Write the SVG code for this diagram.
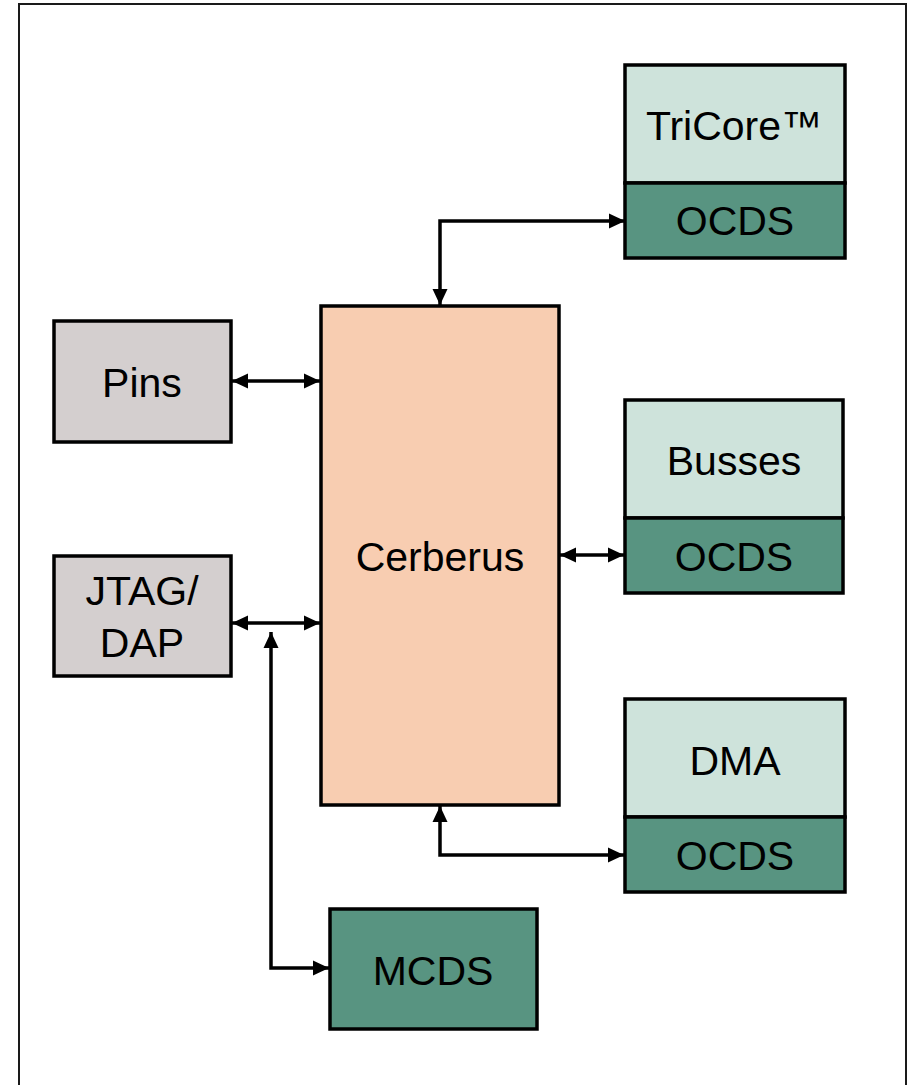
<svg xmlns="http://www.w3.org/2000/svg" width="912" height="1085" viewBox="0 0 912 1085">
<defs>
<style>
.box{stroke:#000;stroke-width:3.5}
.lt{fill:#CEE3DB}
.dk{fill:#589481}
.gr{fill:#D4CFCF}
.pk{fill:#F8CDB1}
.t{font-family:"Liberation Sans",Arial,sans-serif;font-size:41px;fill:#000;text-anchor:middle}
.c{fill:none;stroke:#000;stroke-width:3.5;stroke-linejoin:miter}
</style>
<marker id="arr" markerUnits="userSpaceOnUse" markerWidth="18" markerHeight="18" refX="16" refY="8" orient="auto-start-reverse">
<path d="M0,0.5 L16,8 L0,15.5 z" fill="#000"/>
</marker>
</defs>
<rect x="0" y="0" width="912" height="1085" fill="#fff"/>
<rect x="19" y="4" width="887" height="1100" fill="none" stroke="#1a1a1a" stroke-width="2"/>
<g id="connectors">
<path class="c" d="M440,305 L440,221 L625,221" marker-start="url(#arr)" marker-end="url(#arr)"/>
<path class="c" d="M232,381 L320,381" marker-start="url(#arr)" marker-end="url(#arr)"/>
<path class="c" d="M232,623 L320,623" marker-start="url(#arr)" marker-end="url(#arr)"/>
<path class="c" d="M271,632 L271,968 L329,968" marker-start="url(#arr)" marker-end="url(#arr)"/>
<path class="c" d="M560,555 L624,555" marker-start="url(#arr)" marker-end="url(#arr)"/>
<path class="c" d="M440,806 L440,855 L624,855" marker-start="url(#arr)" marker-end="url(#arr)"/>
</g>
<g id="tricore">
<rect class="box lt" x="625" y="65" width="220" height="118"/>
<rect class="box dk" x="625" y="183" width="220" height="75"/>
<text class="t" x="734" y="140">TriCore™</text>
<text class="t" x="735" y="235">OCDS</text>
</g>
<g id="busses">
<rect class="box lt" x="625" y="400" width="218" height="118"/>
<rect class="box dk" x="625" y="518" width="218" height="75"/>
<text class="t" x="734" y="475">Busses</text>
<text class="t" x="734" y="571">OCDS</text>
</g>
<g id="dma">
<rect class="box lt" x="625" y="699" width="220" height="118"/>
<rect class="box dk" x="625" y="817" width="220" height="75"/>
<text class="t" x="735" y="775">DMA</text>
<text class="t" x="735" y="870">OCDS</text>
</g>
<g id="pins">
<rect class="box gr" x="54" y="321" width="177" height="121"/>
<text class="t" x="142" y="397">Pins</text>
</g>
<g id="jtag">
<rect class="box gr" x="54" y="556" width="177" height="120"/>
<text class="t" x="142" y="605">JTAG/</text>
<text class="t" x="142" y="657">DAP</text>
</g>
<g id="cerberus">
<rect class="box pk" x="321" y="306" width="238" height="499"/>
<text class="t" x="440" y="571">Cerberus</text>
</g>
<g id="mcds">
<rect class="box dk" x="330" y="909" width="207" height="120"/>
<text class="t" x="433" y="985">MCDS</text>
</g>
</svg>
